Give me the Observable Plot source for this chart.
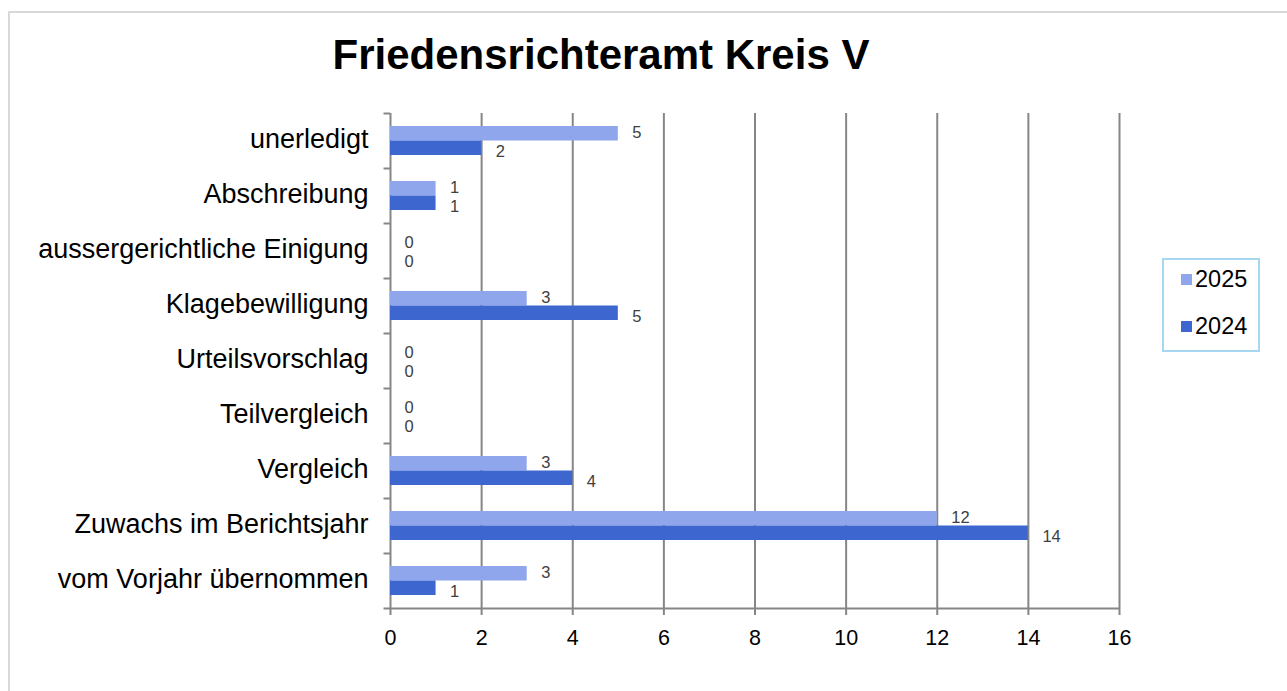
<!DOCTYPE html>
<html>
<head>
<meta charset="utf-8">
<script src="https://cdn.jsdelivr.net/npm/d3@7"></script>
<script src="https://cdn.jsdelivr.net/npm/@observablehq/plot@0.6"></script>
<style>
  html, body { margin: 0; padding: 0; background: #fff; }
  body { width: 1287px; height: 691px; position: relative; overflow: hidden; font-family: "Liberation Sans", Arial, sans-serif; }
  #frame { position: absolute; left: 8px; top: 11px; width: 1400px; height: 800px; border-left: 2px solid #d9d9d9; border-top: 2px solid #d9d9d9; }
  #title { position: absolute; left: 0; width: 1202px; top: 31px; text-align: center; font-weight: bold; font-size: 42px; color: #000; }
  #chart { position: absolute; left: 0; top: 0; }
  #legend { position: absolute; left: 1162px; top: 258px; width: 94px; height: 90px; border: 2px solid #a6d6f0; }
  .item { position: absolute; left: 17px; font-size: 23.5px; color: #000; display: flex; align-items: center; }
  .sw { width: 11px; height: 11px; margin-right: 3px; }
</style>
</head>
<body>
<div id="frame"></div>
<div id="title">Friedensrichteramt Kreis V</div>
<div id="chart"></div>
<div id="legend"></div>
<script>
const categories = [
  "unerledigt",
  "Abschreibung",
  "aussergerichtliche Einigung",
  "Klagebewilligung",
  "Urteilsvorschlag",
  "Teilvergleich",
  "Vergleich",
  "Zuwachs im Berichtsjahr",
  "vom Vorjahr übernommen"
];
const values2025 = [5, 1, 0, 3, 0, 0, 3, 12, 3];
const values2024 = [2, 1, 0, 5, 0, 0, 4, 14, 1];
const xTicks = [0, 2, 4, 6, 8, 10, 12, 14, 16];
const seriesNames = ["2025", "2024"];
const colors = ["#8fa6ec", "#3d66cf"];

const W = 1287, H = 691;
const mL = 390, mR = 168, mT = 113, mB = 83;
const band = (H - mT - mB) / categories.length;
const barH = 14.5;
const grey = "#868686";

const d25 = categories.map((c, i) => ({cat: c, v: values2025[i]}));
const d24 = categories.map((c, i) => ({cat: c, v: values2024[i]}));
const tickLen = 6.5 / ((W - mL - mR) / 16);

const plot = Plot.plot({
  width: W, height: H,
  marginLeft: mL, marginRight: mR, marginTop: mT, marginBottom: mB,
  style: {fontFamily: "'Liberation Sans', Arial, sans-serif", background: "transparent", overflow: "visible"},
  x: {domain: [0, 16], axis: null, label: null},
  y: {domain: categories, padding: 0, axis: null, label: null},
  marks: [
    Plot.ruleX(xTicks, {stroke: grey, strokeWidth: 2, insetBottom: -7}),
    Plot.ruleY(categories, {y: d => d, x1: -tickLen, x2: 0, dy: -band / 2, stroke: grey, strokeWidth: 2}),
    Plot.ruleY([categories[categories.length - 1]], {y: d => d, x1: -tickLen, x2: 16, dy: band / 2, stroke: grey, strokeWidth: 2}),
    Plot.barX(d25, {x: "v", y: "cat", fill: colors[0], insetTop: band / 2 - barH, insetBottom: band / 2}),
    Plot.barX(d24, {x: "v", y: "cat", fill: colors[1], insetTop: band / 2, insetBottom: band / 2 - barH}),
    Plot.text(d25, {x: "v", y: "cat", text: d => String(d.v), dx: 14, dy: -8, textAnchor: "start", fill: "#404040", fontSize: 16.5}),
    Plot.text(d24, {x: "v", y: "cat", text: d => String(d.v), dx: 14, dy: 11, textAnchor: "start", fill: "#404040", fontSize: 16.5}),
    Plot.axisY(categories, {tickSize: 0, tickPadding: 22, fontSize: 27, dy: -2, fill: "#000", textAnchor: "end", label: null}),
    Plot.axisX(xTicks, {tickSize: 0, tickPadding: 21, fontSize: 21.5, fill: "#000", label: null})
  ]
});
document.getElementById("chart").appendChild(plot);

const legend = document.getElementById("legend");
seriesNames.forEach((name, i) => {
  const it = document.createElement("div");
  it.className = "item";
  it.style.top = (i === 0 ? 6 : 53) + "px";
  const sw = document.createElement("div");
  sw.className = "sw";
  sw.style.background = colors[i];
  it.appendChild(sw);
  const t = document.createElement("span");
  t.textContent = name;
  it.appendChild(t);
  legend.appendChild(it);
});
</script>
</body>
</html>
